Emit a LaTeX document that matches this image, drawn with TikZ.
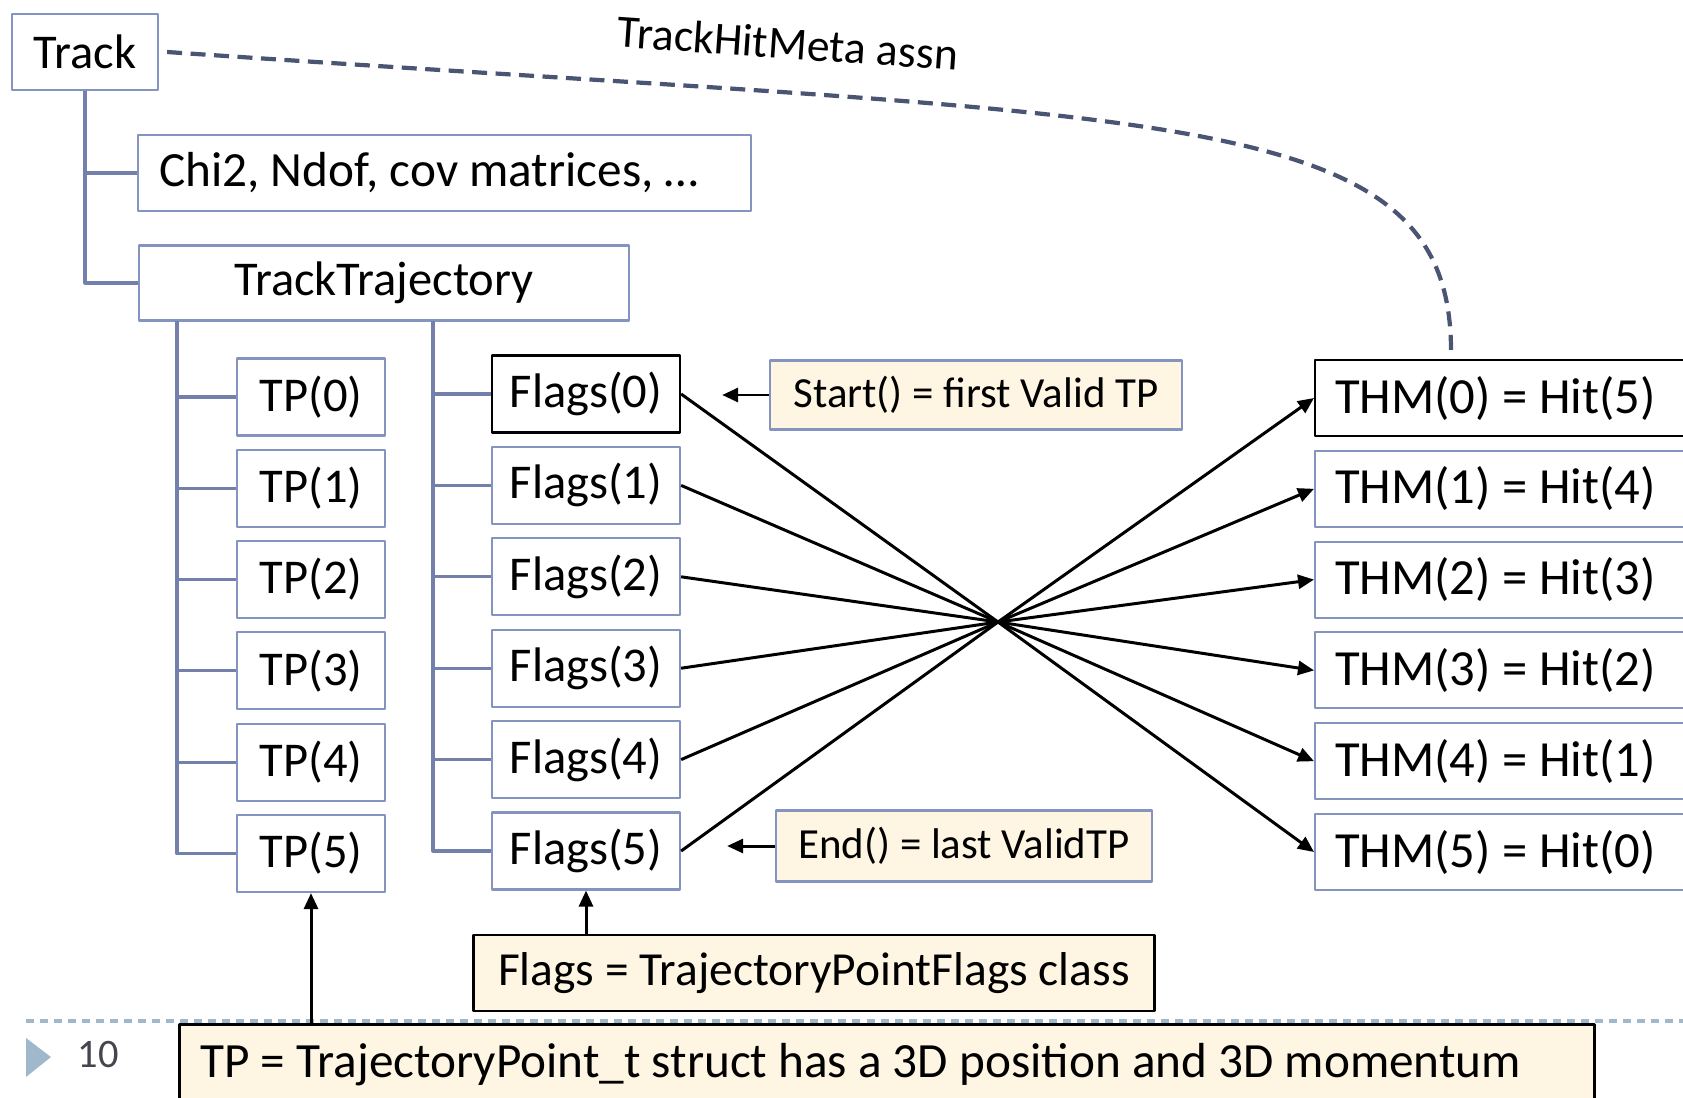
\documentclass[tikz,border=0pt]{standalone}
\usepackage{fontspec}
\setmainfont{Carlito}
\usepackage{tikz}
\usetikzlibrary{arrows.meta, calc, positioning}
\definecolor{trk-tree}{HTML}{7480AC}
\definecolor{trk-frame}{HTML}{8593C0}
\definecolor{trk-cream}{HTML}{FEF6E2}
\definecolor{trk-assn}{HTML}{4A5573}
\definecolor{trk-foot}{HTML}{A0B8CC}
\definecolor{trk-num}{HTML}{45454F}

\tikzset{
  box/.style={draw=trk-frame, line width=0.6pt, inner sep=0pt, font=\fontsize{13.8}{16}\selectfont},
  keybox/.style={box, draw=black},
  note/.style={box, fill=trk-cream, font=\fontsize{12.2}{14}\selectfont},
  classnote/.style={note, draw=black, line width=0.8pt, font=\fontsize{13.5}{16}\selectfont},
  tree/.style={draw=trk-tree, line width=0.9pt},
  link/.style={line width=0.85pt},
  assn/.style={draw=trk-assn, line width=1.2pt, dash pattern=on 1.5mm off 0.85mm},
}

\begin{document}
\begin{tikzpicture}[x=0.01cm, y=-0.01cm, >={Triangle[length=1.6mm, width=1.4mm]}, line join=round]
  \useasboundingbox (0,0) rectangle (1683,1097);
  % sidefod
  \draw[trk-foot, line width=0.9pt, dash pattern=on 0.8mm off 0.6mm] (26,1021) -- (1683,1021);
  \fill[trk-foot] (26,1038) -- (51,1057) -- (26,1077) -- cycle;
  \node[text=trk-num, font=\fontsize{11.5}{13}\selectfont] (sidenr) at (98,1054) {10};
  % track og dens felter
  \node[box, minimum width=1.46cm, minimum height=0.76cm] (track) at (85,52) {Track};
  \node[box, anchor=west, minimum height=0.76cm, inner xsep=0.21cm, font=\fontsize{14}{16}\selectfont]
    (chi) at (137,173) {\makebox[5.71cm][l]{Chi2, Ndof, cov matrices, …}};
  \node[box, minimum width=4.89cm, minimum height=0.75cm] (traj) at (384,283) {TrackTrajectory};
  \draw[tree] (track.south) |- (chi.west);
  \draw[tree] (track.south) |- (traj.west);
  % trajektoriepunkter og flag
  \coordinate (tpbus) at (177,321);
  \coordinate (flbus) at (433,321);
  \foreach \i/\s in {0/keybox, 1/box, 2/box, 3/box, 4/box, 5/box} {
    \node[box, minimum width=1.48cm, minimum height=0.77cm] (tp\i) at (311,{397+91.3*\i}) {TP(\i)};
    \node[\s, minimum width=1.88cm, minimum height=0.77cm] (fl\i) at (586,{394+91.4*\i}) {Flags(\i)};
    \draw[tree] (tpbus) |- (tp\i.west);
    \draw[tree] (flbus) |- (fl\i.west);
  }
  % hits
  \foreach \i/\h/\s in {0/5/keybox, 1/4/box, 2/3/box, 3/2/box, 4/1/box, 5/0/box}
    \node[\s, anchor=west, minimum height=0.76cm, inner xsep=0.2cm, font=\fontsize{14.4}{16}\selectfont]
      (thm\i) at (1314,{398+90.8*\i}) {\makebox[3.81cm][l]{THM(\i) = Hit(\h)}};
  % omvendt rækkefølge
  \coordinate (kryds) at (998,622);
  \foreach \i in {0,...,5} {
    \draw[link] (fl\i.east) -- (kryds);
    \draw[link, ->] (kryds) -- (thm\i.west);
  }
  % assn
  \coordinate (assnend) at (1451,351);
  \draw[assn] ([xshift=0.8mm]track.east) .. controls (1166,121) and (1451,100) .. (assnend);
  \node[rotate=-4, font=\fontsize{13}{15}\selectfont] (assnlabel) at (788,43) {TrackHitMeta assn};
  % noter
  \node[note, minimum width=4.12cm, minimum height=0.69cm] (start) at (976,395) {Start() = first Valid TP};
  \node[note, minimum width=3.76cm, minimum height=0.71cm] (end) at (964,846) {End() = last ValidTP};
  \draw[link, ->, shorten >=4.1mm] (start.west) -- (start.west -| fl0.east);
  \draw[link, ->, shorten >=4.6mm] (end.west) -- (end.west -| fl5.east);
  \node[classnote, minimum width=6.81cm, minimum height=0.76cm] (flagsnote) at (814,973)
    {Flags = TrajectoryPointFlags class};
  \node[classnote, anchor=north west, minimum height=0.80cm, inner xsep=0.21cm, font=\fontsize{14}{16}\selectfont]
    (tpnote) at (178,1023) {\makebox[13.72cm][l]{TP = TrajectoryPoint\_t struct has a 3D position and 3D momentum}};
  \draw[link, ->] (flagsnote.north -| fl5.south) -- (fl5.south);
  \draw[link, ->] (tpnote.north -| tp5.south) -- (tp5.south);
\end{tikzpicture}
\end{document}
